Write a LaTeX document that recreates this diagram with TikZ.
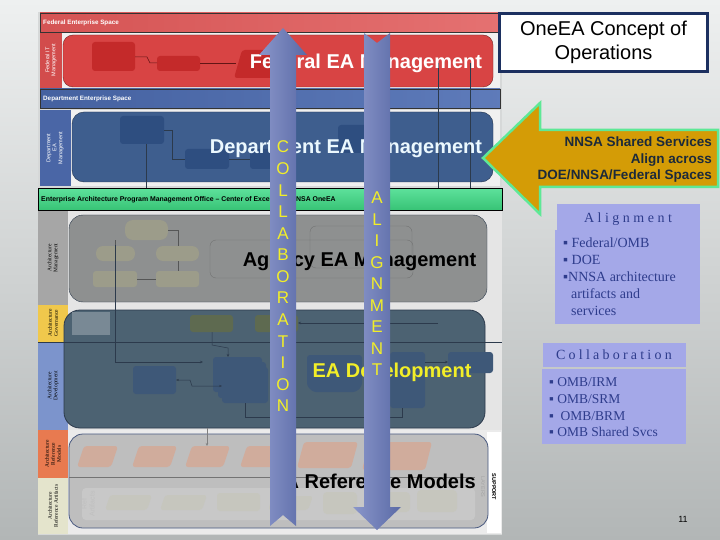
\documentclass[tikz,border=0pt]{standalone}
\usepackage{fontspec}
\setmainfont{Liberation Sans}
\newfontfamily\cambr{Liberation Serif}
\usetikzlibrary{arrows.meta}
\definecolor{bgtop}{HTML}{EEF0F0}
\definecolor{bgbot}{HTML}{B2B6B6}
\definecolor{diagbg}{HTML}{D6D8D8}
\definecolor{fedhead}{HTML}{E05858}
\definecolor{fedlbl}{HTML}{D24C4C}
\definecolor{fedpanel}{HTML}{D84444}
\definecolor{fedbox}{HTML}{C42A2A}
\definecolor{dephead}{HTML}{4C6CB2}
\definecolor{deplbl}{HTML}{4A66A6}
\definecolor{deppanel}{HTML}{3E5E8E}
\definecolor{depbox}{HTML}{2E4E80}
\definecolor{greenA}{HTML}{5CE09A}
\definecolor{greenB}{HTML}{36C274}
\definecolor{mgmtlbl}{HTML}{A6A6A6}
\definecolor{mgmtpanel}{HTML}{8E9090}
\definecolor{pill}{HTML}{9C9C8A}
\definecolor{govlbl}{HTML}{F0C84C}
\definecolor{devlbl}{HTML}{7C94CC}
\definecolor{devpanel}{HTML}{4C6272}
\definecolor{olive}{HTML}{5E6A50}
\definecolor{devbox}{HTML}{3E5878}
\definecolor{reflbl}{HTML}{E87A50}
\definecolor{artlbl}{HTML}{E4E4CC}
\definecolor{refpanel}{HTML}{BEBEBE}
\definecolor{para}{HTML}{D0AC9C}
\definecolor{artbox}{HTML}{C6C6BE}
\definecolor{arrL}{HTML}{8A96CA}
\definecolor{arrM}{HTML}{B2BAE2}
\definecolor{arrR}{HTML}{5A6AA6}
\definecolor{ltryellow}{HTML}{F2EE28}
\definecolor{gold}{HTML}{D49C06}
\definecolor{goldedge}{HTML}{5EE896}
\definecolor{goldtxt}{HTML}{1C2A3A}
\definecolor{navy}{HTML}{1C3060}
\definecolor{lav}{HTML}{A4A8E8}
\definecolor{bultxt}{HTML}{2E3C8C}
\definecolor{lnk}{HTML}{2C3A4C}
\begin{document}
\begin{tikzpicture}[x=1pt,y=-1pt,
  hdrtxt/.style={anchor=west, inner sep=0, font=\fontsize{6.3}{7}\selectfont\bfseries},
  lbl/.style={rotate=90, align=center, inner sep=0, font=\fontsize{5.5}{6}\selectfont},
  slbl/.style={lbl, font=\cambr\fontsize{5.5}{6}\selectfont},
  bigtxt/.style={inner sep=0, font=\fontsize{20}{24}\selectfont\bfseries},
  vletter/.style={inner sep=0, text=ltryellow, font=\fontsize{17}{17}\selectfont},
  sbox/.style={rounded corners=3},
  link/.style={draw=lnk, line width=0.5},
  linka/.style={link, -{Stealth[length=3pt,width=2.5pt]}},
  bul/.style={anchor=west, inner sep=0, text=bultxt, font=\cambr\fontsize{14}{17}\selectfont},
  bulc/.style={bul, font=\cambr\fontsize{13.5}{17}\selectfont},
  bigarrow/.style={left color=arrL, middle color=arrM, right color=arrR},
]
\useasboundingbox (0,0) rectangle (720,540);
\shade[top color=bgtop, bottom color=bgbot] (0,0) rectangle (720,540);

% ---------- diagram frame ----------
\fill[diagbg] (38,12) rectangle (502,535);

% Federal
\shade[left color=fedhead!95!black, right color=fedhead!85!white] (40,13) rectangle (500,32);
\draw[black!80, line width=0.8] (40,13) rectangle (500,32);
\node[hdrtxt, text=white] (fedspace) at (43,23) {Federal Enterprise Space};
\fill[fedlbl] (40,33) rectangle (62,88);
\node[lbl, text=white] (fedlab) at (51,60) {Federal IT\\Management};
\fill[white!88!gray] (62,33) rectangle (500,88);
\draw[fill=fedpanel, draw=fedpanel!55!black, rounded corners=10] (63,35) rectangle (493,87);
\fill[fedbox, sbox] (92,42) rectangle (135,71);
\fill[fedbox, sbox] (157,56) rectangle (200,71);
\fill[fedbox, rounded corners=3] (242,50) -- (282,50) -- (290,78) -- (234,78) -- cycle;
\draw[link, draw=fedbox!50!black] (135,57) -- (147,57) -- (150,63) -- (157,63);
\draw[link, draw=fedbox!50!black] (200,63) -- (236,63);

% Department
\shade[left color=dephead!90!black, right color=dephead!90!white] (40,89) rectangle (500,108);
\draw[black!80, line width=0.8] (40,89) rectangle (500,108);
\node[hdrtxt, text=white] (depspace) at (43,99) {Department Enterprise Space};
\fill[deplbl] (40,110) rectangle (71,186);
\node[lbl, text=white] (deplab) at (55,148) {Department\\EA\\Management};
\fill[white!88!gray] (71,110) rectangle (500,186);
\draw[fill=deppanel, draw=deppanel!55!black, rounded corners=12] (72,112) rectangle (493,182);
\fill[depbox, sbox] (120,116) rectangle (164,144);
\fill[depbox, sbox] (185,149) rectangle (229,169);
\fill[depbox, sbox] (250,149) rectangle (292,169);
\fill[depbox, sbox] (338,125) rectangle (382,153);
\draw[link] (164,130) -- (172,130) -- (172,159) -- (185,159);
\draw[link] (229,159) -- (250,159);

% vertical link lines
\draw[link] (438,63) -- (438,352);
\draw[linka] (470,63) -- (470,352);
\draw[linka] (146,144) -- (146,323) -- (190,323);

% Green PMO header
\shade[top color=greenA, bottom color=greenB] (38,189) rectangle (502,211);
\draw[black, line width=1] (38,189) rectangle (502,211);
\node[hdrtxt, text=black, font=\fontsize{6.9}{7.5}\selectfont\bfseries] (pmo) at (41,200) {Enterprise Architecture Program Management Office -- Center of Excellence NNSA OneEA};

% Architecture management row
\fill[mgmtlbl] (38,211) rectangle (68,305);
\node[slbl] (mgmtlab) at (53,258) {Architecture\\Management};
\fill[white!80!gray] (68,211) rectangle (502,305);
\draw[fill=mgmtpanel, draw=lnk, rounded corners=14] (69,215) rectangle (487,302);
\draw[draw=mgmtpanel!80!black, rounded corners=6] (210,240) rectangle (413,278);
\draw[draw=mgmtpanel!80!black, rounded corners=6] (310,226) rectangle (412,268);
\fill[pill, rounded corners=8] (125,220) rectangle (168,240);
\fill[pill, rounded corners=7] (96,246) rectangle (135,261);
\fill[pill, rounded corners=7] (156,246) rectangle (199,261);
\fill[pill, sbox] (93,271) rectangle (137,287);
\fill[pill, sbox] (156,271) rectangle (199,287);
\draw[link, draw=mgmtpanel!60!black] (168,230) -- (178,230) -- (178,246);
\draw[link, draw=mgmtpanel!60!black] (178,261) -- (178,271);
\draw[link, draw=mgmtpanel!60!black] (115,240) -- (115,246);
\draw[link, draw=mgmtpanel!60!black] (137,279) -- (156,279);

% Governance + development rows
\fill[govlbl] (38,305) rectangle (68,342);
\node[slbl] (govlab) at (53,323) {Architecture\\Governance};
\fill[devlbl] (38,342) rectangle (68,430);
\node[slbl] (devlab) at (53,386) {Architecture\\Development};
\fill[white!80!gray] (68,305) rectangle (502,430);
\draw[fill=devpanel, draw=lnk, line width=0.8, rounded corners=16] (64,310) rectangle (485,428);
\fill[devpanel!75!white] (72,312) rectangle (110,335);
\draw[link] (38,342) -- (502,342);
\fill[olive, sbox] (190,315) rectangle (233,332);
\fill[olive, sbox] (255,315) rectangle (298,332);
\fill[devbox, sbox] (213,357) rectangle (262,392);
\fill[devbox, sbox] (218,362) rectangle (266,398);
\fill[devbox, sbox] (222,367) rectangle (268,403);
\fill[devbox, sbox] (133,366) rectangle (176,394);
\fill[devbox, rounded corners=3] (307,355) -- (362,355) -- (362,386) -- (356,392) -- (313,392) -- (307,386) -- cycle;
\fill[devbox, sbox] (390,352) rectangle (425,408);
\fill[devbox, sbox] (448,352) rectangle (493,373);
\draw[linka] (438,323) -- (298,323);
\draw[linka] (212,332) -- (212,345) -- (228,348) -- (228,357);
\draw[link, {Stealth[length=3pt]}-{Stealth[length=3pt]}] (176,380) -- (190,380) -- (192,386) -- (222,386);
\draw[linka] (115,245) -- (115,362) -- (203,362);
\draw[link] (245,403) -- (245,417) -- (402,417) -- (402,408);
\draw[linka] (362,372) -- (390,372);
\draw[linka] (425,362) -- (448,362);

% Reference rows
\fill[reflbl] (38,430) rectangle (68,478);
\node[slbl] (reflab) at (53,454) {Architecture\\Reference\\Models};
\fill[artlbl] (38,478) rectangle (68,534);
\node[slbl] (artlab) at (53,506) {Architecture\\Reference Artifacts};
\fill[white!84!gray] (68,430) rectangle (502,534);
\fill[white] (487,432) rectangle (501,533);
\draw[fill=refpanel, draw=navy!80, line width=0.8, rounded corners=14] (69,434) rectangle (488,528);
\draw[link, draw=black!55] (69,477) -- (475,477);
\foreach \a/\b/\t/\u in {77/118/446/467, 132/177/446/467, 185/230/446/467, 240/286/446/467, 297/358/442/468, 362/432/442/470}
  \fill[para, rounded corners=3] (\a+7,\t) -- (\b,\t) -- (\b-7,\u) -- (\a,\u) -- cycle;
\draw[linka, draw=black!50] (207,428) -- (207,446);
\fill[refpanel!85!white, rounded corners=4] (82,488) rectangle (475,520);
\node[lbl, text=black!25, font=\fontsize{7}{8}\selectfont] (refart) at (88,504) {Ref\\Artifacts};
\foreach \a/\b/\t/\u in {105/152/495/510, 160/207/495/510, 268/313/496/510}
  \fill[artbox, rounded corners=3] (\a+5,\t) -- (\b,\t) -- (\b-5,\u) -- (\a,\u) -- cycle;
\fill[artbox, sbox] (217,493) rectangle (260,511);
\fill[artbox, rounded corners=4] (323,492) rectangle (357,514);
\fill[artbox, rounded corners=4] (377,492) rectangle (410,512);
\fill[artbox, rounded corners=4] (417,490) rectangle (457,512);
\node[rotate=-90, inner sep=0, text=black!35, font=\fontsize{5.5}{6}\selectfont] (layers) at (483,487) {LAYERS};
\node[rotate=-90, inner sep=0, text=black, font=\fontsize{5.5}{6}\selectfont\bfseries] (support) at (494,487) {SUPPORT};

% ---------- big overlay texts ----------
\node[bigtxt, anchor=base, text=white] (fedea) at (366,69) {Federal EA Management};
\node[bigtxt, anchor=base, text=white!92!cyan] (depea) at (346,154) {Department EA Management};
\node[bigtxt, anchor=base, text=black] (agea) at (359.5,266) {Agency EA Management};
\node[bigtxt, anchor=base, text=ltryellow] (devea) at (392,377) {EA Development};
\node[bigtxt, anchor=base east, text=black] (refea) at (476,488) {EA Reference Models};

% ---------- vertical arrows ----------
\shade[bigarrow] (270,526) -- (283,515) -- (296,526) -- (296,55) -- (307,55) -- (283,28) -- (259,55) -- (270,55) -- cycle;
\shade[bigarrow] (364,33) -- (377,43) -- (390,33) -- (390,507) -- (401,507) -- (377,530) -- (353,507) -- (364,507) -- cycle;
\foreach \ch [count=\i] in {C,O,L,L,A,B,O,R,A,T,I,O,N}
  \node[vletter] (col\i) at (283,{147+(\i-1)*21.58}) {\ch};
\foreach \ch [count=\i] in {A,L,I,G,N,M,E,N,T}
  \node[vletter] (ali\i) at (377,{198+(\i-1)*21.5}) {\ch};

% ---------- right side ----------
\node[draw=navy, line width=3, fill=white, minimum width=208, minimum height=58, align=center,
      font=\fontsize{20}{24}\selectfont] (title) at (603.5,42.5) {OneEA Concept of\\Operations};

\filldraw[fill=gold, draw=goldedge, line width=2.5, line join=miter]
  (483,158) -- (540,103) -- (540,130) -- (718,130) -- (718,187) -- (540,187) -- (540,214) -- cycle;
\node[anchor=east, align=right, inner sep=0, text=goldtxt, font=\fontsize{13.5}{16.5}\selectfont\bfseries] (nnsa) at (712,160) {NNSA Shared Services\\Align across\\DOE/NNSA/Federal Spaces};

\fill[lav] (557,204) rectangle (700,230);
\fill[lav] (555,230) rectangle (700,324);
\node[inner sep=0, text=bultxt, font=\cambr\fontsize{14}{17}\selectfont\addfontfeature{LetterSpace=25}] (alignhd) at (628,219) {Alignment};
\node[bul] (al1) at (563,243) {▪ Federal/OMB};
\node[bul] (al2) at (563,260) {▪ DOE};
\node[bul] (al3) at (563,277) {▪NNSA architecture};
\node[bul] (al4) at (571,294) {artifacts and};
\node[bul] (al5) at (571,311) {services};

\fill[lav] (543,343) rectangle (686,367);
\fill[lav] (542,368.5) rectangle (686,444);
\node[inner sep=0, text=bultxt, font=\cambr\fontsize{14}{17}\selectfont\addfontfeature{LetterSpace=23}] (collhd) at (614,355) {Collaboration};
\node[bulc] (co1) at (549,382) {▪ OMB/IRM};
\node[bulc] (co2) at (549,399) {▪ OMB/SRM};
\node[bulc] (co3) at (549,416) {▪ \ OMB/BRM};
\node[bulc] (co4) at (549,432) {▪ OMB Shared Svcs};

\node[inner sep=0, font=\fontsize{9}{10}\selectfont] (pgnum) at (683,519) {11};
\end{tikzpicture}
\end{document}
